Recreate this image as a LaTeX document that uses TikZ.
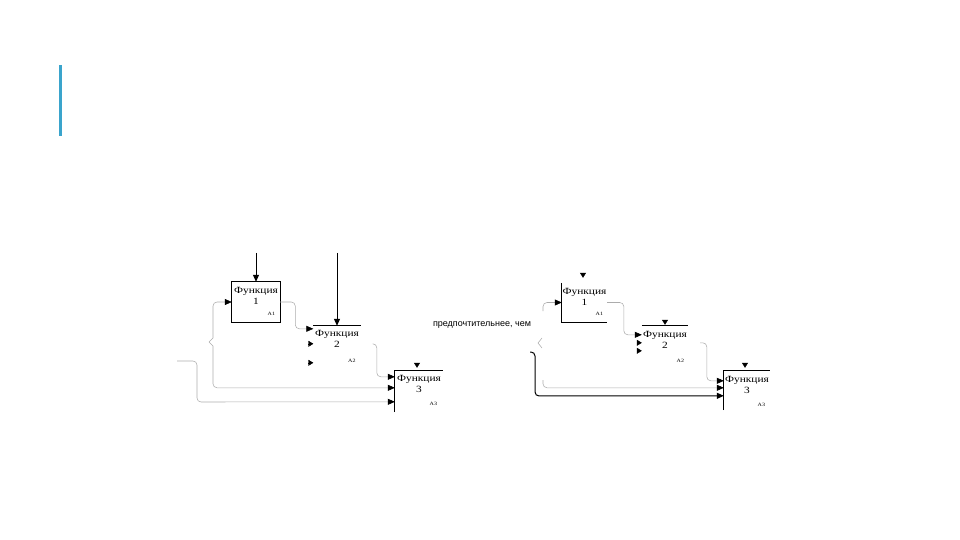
\documentclass[tikz,border=0pt]{standalone}
\usepackage{fontspec}
\setmainfont{Liberation Serif}
\newfontfamily\boxfont[FakeStretch=1.2]{Liberation Serif}
\newfontfamily\notefont{Liberation Sans}
\usepackage{tikz}
\usetikzlibrary{arrows.meta, positioning, calc}
\usepackage{xcolor}
\definecolor{barblue}{RGB}{58,164,204}

\begin{document}
\begin{tikzpicture}[x=1pt, y=-1pt,
      box/.style={inner sep=0pt, minimum width=48pt, minimum height=40pt},
      ttl/.style={inner sep=0pt, align=center, font=\boxfont\fontsize{9.5}{11.5}\selectfont},
      num/.style={inner sep=0pt, font=\boxfont\fontsize{5}{6}\selectfont},
      frame/.style={draw, line width=0.7pt},
      ctrl/.style={draw, line width=1pt, -{Triangle[length=7pt, width=6pt]}},
      flow/.style={draw=gray!65, line width=0.55pt, rounded corners=4pt, -{Triangle[length=7pt, width=6pt, color=black]}},
      bold/.style={draw, line width=1pt, rounded corners=4pt, -{Triangle[length=7pt, width=6pt]}},
      stub/.style={-{Triangle[length=5pt, width=6pt]}}
    ]
    \useasboundingbox (0,0) rectangle (960,540);
    \fill[barblue] (59,65) rectangle (62,136);

    % left: three functions
    \node[box] (f1) at (256,302) {};
    \node[box, minimum width=47pt, minimum height=36pt] (f2) at (337,344) {};
    \node[box, minimum height=41pt] (f3) at (419,391.5) {};
    \draw[frame] (f1.north west) rectangle (f1.south east);
    \draw[frame] (f2.north west) -- (f2.north east);
    \draw[frame] (f3.south west) -- (f3.north west) -- (f3.north east);

    \node[ttl, below=5pt of f1.north] (f1t) {Функция\\1};
    \node[ttl, below=4pt of f2.north] (f2t) {Функция\\2};
    \node[ttl, below=4pt of f3.north] (f3t) {Функция\\3};
    \node[num, above left=7pt and 5pt of f1.south east] (f1n) {A1};
    \node[num, above left=0pt and 5pt of f2.south east] (f2n) {A2};
    \node[num, above left=6pt and 6pt of f3.south east] (f3n) {A3};

    \coordinate[above=29pt of f1.north] (c1);
    \coordinate[above=73pt of f2.north] (c2);
    \draw[ctrl] (c1) -- (f1.north);
    \draw[ctrl] (c2) -- (f2.north);
    \draw[stub] ($(f3.north)+(-2,-8)$) -- ($(f3.north)+(-2,-3)$);

    \draw[flow] (f1.east) -| ($(f2.north west)+(-18,3)$) -- ($(f2.north west)+(0,3)$);
    \draw[stub] ($(f2.north west)+(-5,18)$) -- ($(f2.north west)+(0,18)$);
    \draw[stub] ($(f2.north west)+(-5,37)$) -- ($(f2.north west)+(0,37)$);
    \draw[flow] ($(f2.north east)+(12,18)$) -| ($(f3.north west)+(-18,6)$) -- ($(f3.north west)+(0,6)$);

    \coordinate (br) at (209,342);
    \coordinate (in3) at (177,361);
    \draw[flow, sharp corners] (br) -- ++(4,-4) [rounded corners=4pt] |- (f1.west);
    \draw[flow, sharp corners] (br) -- ++(4,4) [rounded corners=4pt] |- ($(f3.north west)+(0,17)$);
    \draw[flow] (in3) -| (197,402) -- ($(f3.north west)+(0,31)$);

    \node[font=\notefont\fontsize{9}{11}\selectfont, inner sep=0pt] (pref) at (482,325) {предпочтительнее, чем};

    % right: the same three functions
    \node[box, minimum width=45pt, minimum height=39pt] (g1) at (584.5,302.5) {};
    \node[box, minimum width=46pt, minimum height=36pt] (g2) at (665,344) {};
    \node[box, minimum width=46pt, minimum height=39pt] (g3) at (747,390.5) {};
    \draw[frame] (g1.north west) -- (g1.south west) -- (g1.south east);
    \draw[frame] (g2.north west) -- (g2.north east);
    \draw[frame] (g3.south west) -- (g3.north west) -- (g3.north east);

    \node[ttl, below=5pt of g1.north] (g1t) {Функция\\1};
    \node[ttl, below=5pt of g2.north] (g2t) {Функция\\2};
    \node[ttl, below=5pt of g3.north] (g3t) {Функция\\3};
    \node[num, above left=7pt and 4pt of g1.south east] (g1n) {A1};
    \node[num, above left=0pt and 4pt of g2.south east] (g2n) {A2};
    \node[num, above left=3pt and 5pt of g3.south east] (g3n) {A3};

    \draw[stub] ($(g1.north)+(-1.5,-10)$) -- ($(g1.north)+(-1.5,-5)$);
    \draw[stub] ($(g2.north)+(0,-6)$) -- ($(g2.north)+(0,-1)$);
    \draw[stub] ($(g3.north)+(-2,-8)$) -- ($(g3.north)+(-2,-3)$);

    \draw[flow] (g1.east) -| ($(g2.north west)+(-18,9)$) -- ($(g2.north west)+(0,9)$);
    \draw[stub] ($(g2.north west)+(-5,17)$) -- ($(g2.north west)+(0,17)$);
    \draw[stub] ($(g2.north west)+(-5,25)$) -- ($(g2.north west)+(0,25)$);
    \draw[flow] ($(g2.north east)+(12,17)$) -| ($(g3.north west)+(-17,10)$) -- ($(g3.north west)+(0,10)$);

    \coordinate (r1) at (543,311);
    \coordinate (r2) at (543,380);
    \coordinate (r3) at (530,352);
    \draw[flow] (r1) |- (g1.west);
    \draw[draw=gray!65, line width=0.55pt] (542,338) -- (538,343) -- (542,348);
    \draw[flow] (r2) |- ($(g3.north west)+(0,17)$);
    \draw[bold] (r3) -| (535,396) -- ($(g3.north west)+(0,25)$);
  \end{tikzpicture}
\end{document}
